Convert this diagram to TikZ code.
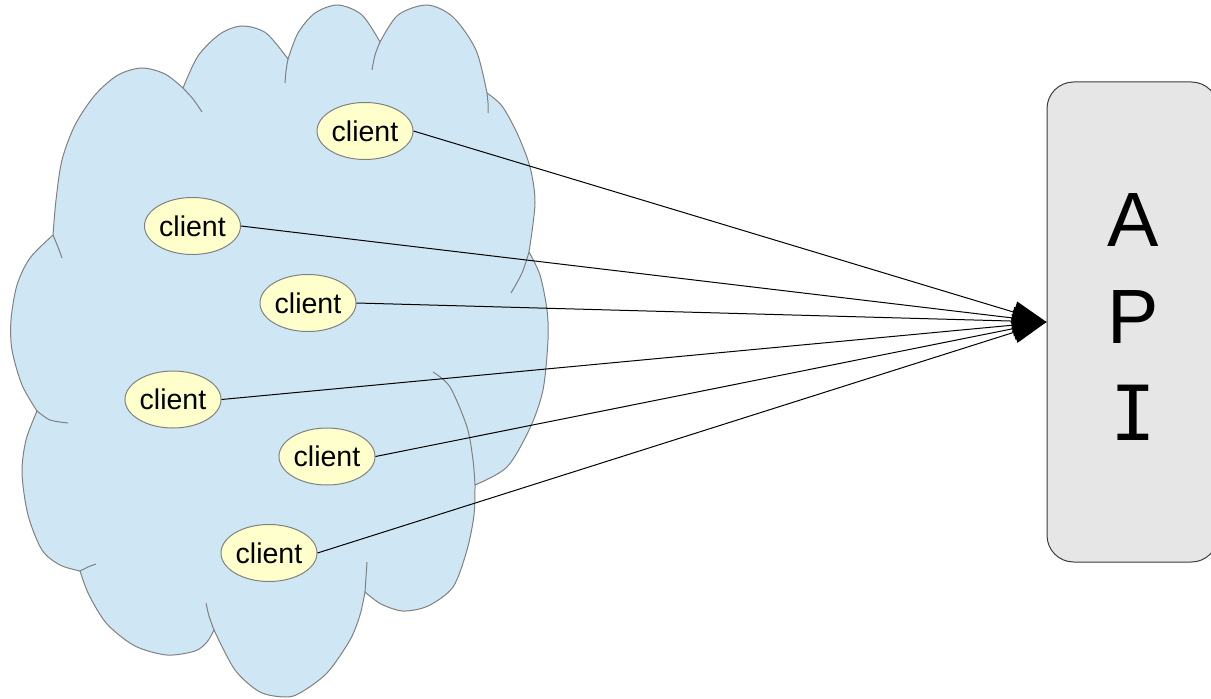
\documentclass[tikz,border=0pt]{standalone}
\usepackage{fontspec}
\setmainfont{Liberation Sans}
\newfontfamily\apimono{DejaVu Sans Mono}
\usetikzlibrary{arrows.meta,shapes.geometric}
\definecolor{cloudfill}{HTML}{CFE7F5}
\definecolor{cloudgray}{HTML}{808080}
\definecolor{clientfill}{HTML}{FFFFCC}
\definecolor{boxfill}{HTML}{E6E6E6}
\definecolor{boxline}{HTML}{3C3C3C}
\begin{document}
\begin{tikzpicture}[x=0.75pt,y=-0.75pt,
  cloudline/.style={draw=cloudgray,line width=0.75pt},
  crease/.style={draw=cloudgray,line width=0.75pt},
  client/.style={ellipse,draw=cloudgray,fill=clientfill,line width=0.75pt,
    minimum width=72pt,minimum height=42.75pt,inner sep=0pt,
    font=\fontsize{21.4}{25}\selectfont},
  link/.style={draw=black,line width=0.75pt,-{Triangle[length=25.5pt,width=16.5pt]}},
  apibox/.style={rectangle,rounded corners=20pt,draw=boxline,fill=boxfill,
    line width=0.75pt,minimum width=128.25pt,minimum height=360pt,inner sep=0pt},
  apitext/.style={align=center,inner sep=0pt,font=\fontsize{57.75}{72.75}\selectfont}]
\useasboundingbox (0,0) rectangle (1211,699);
\clip (0,0) rectangle (1211,699);
% cloud outline
\path[fill=cloudfill,cloudline]
  plot[smooth] coordinates {(53,235) (56,200) (62,160) (75,125) (95,95) (118,75) (142,68) (165,74) (183,88)}
  -- plot[smooth] coordinates {(183,88) (198,56) (220,34) (242,26) (266,33) (288,59)}
  -- plot[smooth] coordinates {(288,59) (298,33) (315,13) (338,5) (362,15) (380,42)}
  -- plot[smooth] coordinates {(380,42) (398,15) (427,5) (453,17) (476,50) (487,93)}
  -- plot[smooth] coordinates {(487,93) (502,106) (517,133) (530,167) (535,203) (529,252)}
  -- plot[smooth] coordinates {(529,252) (540,275) (547,310) (548,340) (543,390) (530,428) (507,467) (475,485)}
  -- plot[smooth] coordinates {(475,485) (474,515) (467,550) (453,587) (428,606) (403,611) (381,604) (365,592)}
  -- plot[smooth] coordinates {(365,592) (360,615) (350,640) (327,673) (300,693) (285,697) (260,692) (235,670) (214,630)}
  -- plot[smooth] coordinates {(214,630) (207,642) (195,651) (167,655) (135,646) (107,624) (89,595) (80,571)}
  -- plot[smooth] coordinates {(80,571) (60,565) (42,550) (28,515) (22,473) (26,440) (37,411)}
  -- plot[smooth] coordinates {(37,411) (22,385) (12,350) (11,320) (17,285) (30,258) (53,235)}
  -- cycle;
% creases
\draw[crease] plot[smooth] coordinates {(53,235) (58,247) (62,258)};
\draw[crease] plot[smooth] coordinates {(183,88) (193,99) (202,112)};
\draw[crease] plot[smooth] coordinates {(288,59) (286,71) (285,83)};
\draw[crease] plot[smooth] coordinates {(380,42) (375,55) (372,70)};
\draw[crease] plot[smooth] coordinates {(487,93) (488,103) (488,113)};
\draw[crease] plot[smooth] coordinates {(529,252) (522,273) (511,293)};
\draw[crease] plot[smooth] coordinates {(475,485) (473,460) (467,427) (450,387) (433,372)};
\draw[crease] plot[smooth] coordinates {(365,592) (366,577) (367,562)};
\draw[crease] plot[smooth] coordinates {(214,630) (209,616) (206,603)};
\draw[crease] plot[smooth] coordinates {(80,571) (88,567) (96,564)};
\draw[crease] plot[smooth] coordinates {(37,411) (50,420) (68,423)};
% clients
\node[client] (c1) at (365,131) {client};
\node[client] (c2) at (192.5,226) {client};
\node[client] (c3) at (308,303) {client};
\node[client] (c4) at (173,399.5) {client};
\node[client] (c5) at (327,456.5) {client};
\node[client] (c6) at (269,553) {client};
% API box
\node[apibox] (api) at (1132.5,322) {};
\node[apitext] (apilabel) at (1133,317.5) {A\\P\\{\apimono\fontsize{57}{72.75}\selectfont I}};
% links
\foreach \c in {c1,c2,c3,c4,c5,c6}
  \draw[link] (\c.east) -- (api.west);
\end{tikzpicture}
\end{document}
